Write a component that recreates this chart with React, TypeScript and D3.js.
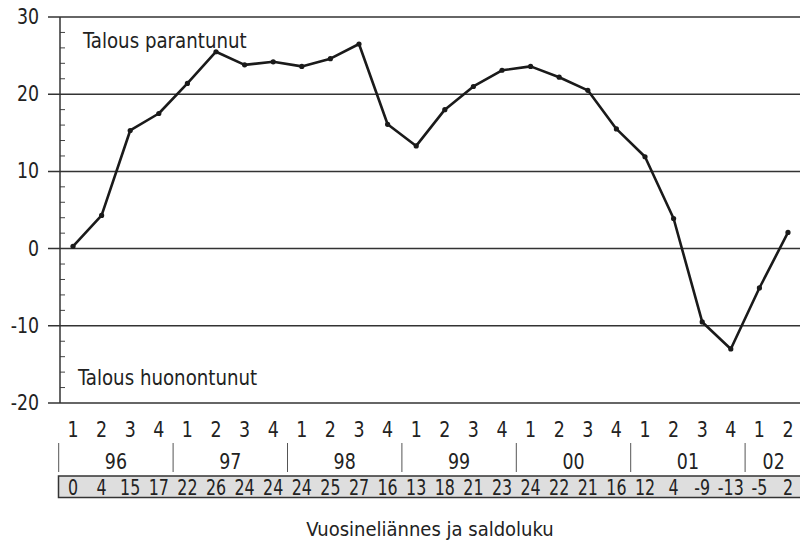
import * as d3 from "d3";
import React from "react";

// quarter labels along the x axis
const quarters = [
  "1", "2", "3", "4", "1", "2", "3", "4", "1", "2", "3", "4", "1",
  "2", "3", "4", "1", "2", "3", "4", "1", "2", "3", "4", "1", "2",
];
const years = ["96", "97", "98", "99", "00", "01", "02"];
// saldo numbers printed in the table row
const saldo = [
  0, 4, 15, 17, 22, 26, 24, 24, 24, 25, 27, 16, 13, 18, 21, 23, 24, 22, 21, 16,
  12, 4, -9, -13, -5, 2,
];
// plotted values
const plotted = [
  0.3, 4.3, 15.3, 17.5, 21.4, 25.5, 23.8, 24.2, 23.6, 24.6, 26.5, 16.1, 13.3,
  18.0, 21.0, 23.1, 23.6, 22.2, 20.5, 15.5, 11.9, 3.9, -9.5, -13.0, -5.1, 2.1,
];
const yTicks = [-20, -10, 0, 10, 20, 30];
const minorTicks = d3.range(-20, 31, 2);

const FONT = "'DejaVu Sans Condensed', 'Liberation Sans Narrow', Roboto, sans-serif";
const INK = "#222";

// condensed text: squeeze horizontally around its anchor
function T({ x, y, size, sx = 0.88, anchor = "start", children }) {
  return (
    <text
      transform={`translate(${x},${y}) scale(${sx},1)`}
      textAnchor={anchor}
      fontSize={size}
    >
      {children}
    </text>
  );
}

export default function App() {
  const width = 800;
  const height = 540;

  const idx = quarters.map((_, i) => i);
  const x = d3.scaleBand<number>().domain(idx).range([58.7, 802.3]);
  const cx = (i: number) => (x(i) as number) + x.bandwidth() / 2;
  const y = d3.scaleLinear().domain([-20, 30]).range([403, 17]);

  const line = d3
    .line<number>()
    .x((_, i) => cx(i))
    .y((d) => y(d));

  const axisX = 60;

  return (
    <div style={{ position: "absolute", left: 0, top: 0 }}>
      <svg width={width} height={height} style={{ display: "block", background: "#fff" }}>
        <g fontFamily={FONT} fill={INK}>
          {/* gridlines and major ticks */}
          {yTicks.map((t) => (
            <g key={t}>
              <line x1={48} x2={width} y1={y(t)} y2={y(t)} stroke="#333" strokeWidth={1.5} />
              <T x={39} y={y(t) + 7} size={21} sx={0.92} anchor="end">
                {t}
              </T>
            </g>
          ))}
          {/* minor ticks */}
          {minorTicks
            .filter((t) => t % 10 !== 0)
            .map((t) => (
              <line key={t} x1={axisX} x2={axisX + 5} y1={y(t)} y2={y(t)} stroke="#444" strokeWidth={1} />
            ))}
          <line x1={axisX} x2={axisX} y1={y(30)} y2={y(-20)} stroke="#333" strokeWidth={1.5} />

          <T x={83} y={48} size={22} sx={0.92}>
            Talous parantunut
          </T>
          <T x={78} y={385} size={22} sx={0.92}>
            Talous huonontunut
          </T>

          {/* series */}
          <path d={line(plotted) || ""} fill="none" stroke="#1a1a1a" strokeWidth={2.6} strokeLinejoin="round" />
          {plotted.map((v, i) => (
            <circle key={i} cx={cx(i)} cy={y(v)} r={2.6} fill="#1a1a1a" />
          ))}

          {/* quarter labels */}
          {quarters.map((q, i) => (
            <T key={i} x={cx(i)} y={437} size={22} anchor="middle">
              {q}
            </T>
          ))}

          {/* year groups */}
          {years.map((yr, k) => {
            const members = idx.filter((i) => Math.floor(i / 4) === k);
            const left = x(members[0]) as number;
            const mid = d3.mean(members, cx) as number;
            return (
              <g key={yr}>
                <line x1={left} x2={left} y1={443} y2={472} stroke="#555" strokeWidth={1} />
                <T x={mid} y={469} size={22} anchor="middle">
                  {yr}
                </T>
              </g>
            );
          })}

          {/* saldo table row */}
          <rect x={58.5} y={476} width={width} height={21.5} fill="#dedede" stroke="#333" strokeWidth={1.5} />
          {saldo.map((s, i) => (
            <T key={i} x={cx(i)} y={495} size={21} sx={0.84} anchor="middle">
              {s}
            </T>
          ))}

          <text x={430} y={536} textAnchor="middle" fontSize={20}>
            Vuosineliännes ja saldoluku
          </text>
        </g>
      </svg>
    </div>
  );
}
